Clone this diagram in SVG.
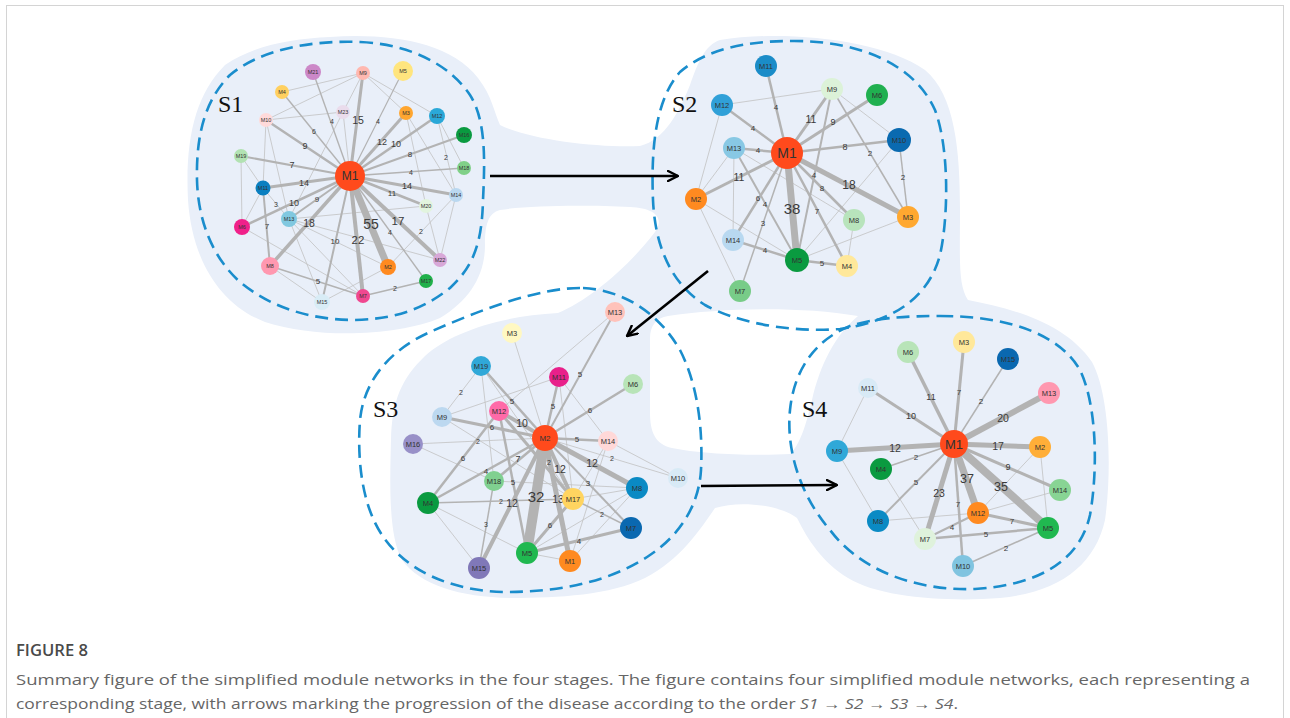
<svg xmlns="http://www.w3.org/2000/svg" width="1290" height="718" viewBox="0 0 1290 718">
<defs>
  <style>
    .frame{fill:#fff;stroke:#d4d4d4;stroke-width:1}
    .area{fill:#e9eff9}
    .hole{fill:#fff}
    .stage{fill:none;stroke:#1a8dcc;stroke-width:2.6;stroke-dasharray:13 7}
    .tag{font-family:"Liberation Serif","Times New Roman",serif;font-size:24px;fill:#111}
    .e{stroke:#b3b3b3;fill:none}
    .t{stroke:#c2c2c2;stroke-width:0.8;fill:none}
    .el{font-family:"Liberation Sans",Arial,sans-serif;fill:#3a3a3a;text-anchor:middle;dominant-baseline:central}
    .nl{font-family:"Liberation Sans",Arial,sans-serif;fill:#333;text-anchor:middle;dominant-baseline:central}
    .s1 .nl{font-size:5.5px}
    .s2 .nl,.s3 .nl,.s4 .nl{font-size:7.5px}
    .arrow{stroke:#000;stroke-width:2.6;fill:none;marker-end:url(#chev)}
    .cap{font-family:"Open Sans","Liberation Sans",sans-serif;font-size:15px;fill:#666}
    .fig{font-family:"Open Sans","Liberation Sans",sans-serif;font-size:16px;font-weight:600;fill:#4a4a4a}
  </style>
  <marker id="chev" viewBox="0 0 12 12" refX="11" refY="6" markerWidth="12" markerHeight="12" markerUnits="userSpaceOnUse" orient="auto">
    <path d="M1,1 L11,6 L1,11" fill="none" stroke="#000" stroke-width="2.4" stroke-linecap="round" stroke-linejoin="round"/>
  </marker>
</defs>

<rect class="frame" x="6.5" y="5.5" width="1277" height="730"/>

<!-- shaded backdrop joining the four stages -->
<g id="backdrop">
  <path class="area" d="M330,37 C390,33 450,42 478,78 C492,96 494,112 500,125 C530,140 600,148 640,146 C665,140 680,110 690,85 C698,62 705,45 720,40 C780,30 880,38 925,70 C955,95 960,150 960,210 C960,260 958,285 968,300 C1010,308 1065,322 1092,362 C1110,395 1112,470 1105,520 C1095,565 1060,592 1000,598 C950,602 880,598 848,578 C822,562 808,540 797,518 C780,505 740,500 715,508 C700,530 680,560 645,578 C610,595 560,598 510,598 C460,597 420,585 402,560 C388,535 390,480 391,440 C392,400 402,378 425,356 C450,333 500,316 558,313 C590,300 630,265 655,232 C665,218 655,208 630,207 C590,205 530,205 500,210 C488,213 485,225 485,245 C485,275 470,300 440,318 C400,335 320,340 265,322 C220,305 192,260 188,200 C185,140 195,95 225,65 C255,45 290,39 330,37 Z"/>
  <path class="hole" d="M668,316 C720,308 800,306 858,316 C835,335 820,365 812,400 C806,425 800,445 790,454 C750,456 700,454 672,448 C655,444 650,432 650,412 L650,338 C650,326 656,318 668,316 Z"/>
</g>

<!-- dashed stage outlines -->
<g id="stage-outlines">
  <path class="stage" d="M360,42 C410,44 450,65 470,95 C486,120 485,160 483,200 C482,240 475,265 450,288 C420,312 390,319 355,320 C310,320 270,307 240,282 C212,257 198,220 197,180 C196,135 205,100 230,75 C260,50 310,40 360,42 Z"/>
  <path class="stage" d="M790,41 C860,40 915,65 935,110 C950,150 948,220 940,255 C928,300 890,322 840,329 C790,333 735,322 705,305 C670,283 655,245 653,200 C651,150 655,100 680,72 C705,50 745,41 790,41 Z"/>
  <path class="stage" d="M583,288 C625,290 660,315 680,350 C698,385 703,430 701,470 C699,505 680,535 650,555 C610,582 560,592 505,592 C450,591 405,570 382,535 C362,505 357,460 360,420 C364,380 390,350 430,332 C480,310 540,287 583,288 Z"/>
  <path class="stage" d="M940,316 C1010,316 1060,335 1080,370 C1097,405 1098,470 1090,515 C1080,560 1040,585 975,589 C915,591 860,570 830,530 C800,495 786,450 790,410 C794,370 815,340 850,326 C875,318 905,316 940,316 Z"/>
  <text class="tag" x="218" y="112">S1</text>
  <text class="tag" x="672" y="112">S2</text>
  <text class="tag" x="373" y="417">S3</text>
  <text class="tag" x="802" y="417">S4</text>
</g>

<!-- progression arrows -->
<g id="progression">
  <line class="arrow" x1="490" y1="176" x2="678" y2="176"/>
  <line class="arrow" x1="708" y1="271" x2="627" y2="336"/>
  <line class="arrow" x1="701" y1="486" x2="837" y2="485"/>
</g>

<!-- ===== Stage 1 ===== -->
<g id="s1-connectors">
  <line class="t" x1="282" y1="92" x2="363" y2="73"/>
  <line class="t" x1="266" y1="120" x2="363" y2="73"/>
  <line class="t" x1="266" y1="120" x2="343" y2="112"/>
  <line class="t" x1="363" y1="73" x2="343" y2="112"/>
  <line class="t" x1="343" y1="112" x2="289" y2="219"/>
  <line class="t" x1="343" y1="112" x2="350" y2="176"/>
  <line class="t" x1="363" y1="73" x2="406" y2="113"/>
  <line class="t" x1="363" y1="73" x2="437" y2="116"/>
  <line class="t" x1="406" y1="113" x2="426" y2="206"/>
  <line class="t" x1="406" y1="113" x2="456" y2="195"/>
  <line class="t" x1="437" y1="116" x2="464" y2="168"/>
  <line class="t" x1="456" y1="195" x2="440" y2="260"/>
  <line class="t" x1="426" y1="206" x2="440" y2="260"/>
  <line class="t" x1="289" y1="219" x2="426" y2="206"/>
  <line class="t" x1="289" y1="219" x2="440" y2="260"/>
  <line class="t" x1="289" y1="219" x2="388" y2="267"/>
  <line class="t" x1="388" y1="267" x2="322" y2="302"/>
  <line class="t" x1="242" y1="227" x2="363" y2="296"/>
  <line class="t" x1="289" y1="219" x2="363" y2="296"/>
  <line class="t" x1="270" y1="266" x2="322" y2="302"/>
  <line class="t" x1="289" y1="219" x2="322" y2="302"/>
  <line class="t" x1="241" y1="156" x2="263" y2="188"/>
  <line class="t" x1="241" y1="156" x2="242" y2="227"/>
  <line class="t" x1="263" y1="188" x2="242" y2="227"/>
  <line class="t" x1="266" y1="120" x2="263" y2="188"/>
  <line class="t" x1="266" y1="120" x2="289" y2="219"/>
  <line class="t" x1="437" y1="116" x2="456" y2="195"/>
  <line class="t" x1="388" y1="267" x2="456" y2="195"/>
  <line class="t" x1="263" y1="188" x2="289" y2="219"/>
  <line class="e" stroke-width="2" x1="263" y1="188" x2="270" y2="266"/>
  <line class="e" stroke-width="1.5" x1="270" y1="266" x2="363" y2="296"/>
  <line class="e" stroke-width="1.5" x1="363" y1="296" x2="426" y2="281"/>
  <line class="e" stroke-width="1.4" x1="350" y1="176" x2="313" y2="72"/>
  <line class="e" stroke-width="1.4" x1="350" y1="176" x2="282" y2="92"/>
  <line class="e" stroke-width="1.2" x1="350" y1="176" x2="403" y2="71"/>
  <line class="e" stroke-width="1.4" x1="350" y1="176" x2="464" y2="168"/>
  <line class="e" stroke-width="1.4" x1="350" y1="176" x2="426" y2="281"/>
  <line class="e" stroke-width="2" x1="350" y1="176" x2="464" y2="135"/>
  <line class="e" stroke-width="2" x1="350" y1="176" x2="241" y2="156"/>
  <line class="e" stroke-width="2" x1="350" y1="176" x2="289" y2="219"/>
  <line class="e" stroke-width="2" x1="350" y1="176" x2="322" y2="302"/>
  <line class="e" stroke-width="2.5" x1="350" y1="176" x2="266" y2="120"/>
  <line class="e" stroke-width="2.5" x1="350" y1="176" x2="437" y2="116"/>
  <line class="e" stroke-width="2.5" x1="350" y1="176" x2="426" y2="206"/>
  <line class="e" stroke-width="2.5" x1="350" y1="176" x2="242" y2="227"/>
  <line class="e" stroke-width="3" x1="350" y1="176" x2="363" y2="73"/>
  <line class="e" stroke-width="3" x1="350" y1="176" x2="406" y2="113"/>
  <line class="e" stroke-width="3" x1="350" y1="176" x2="263" y2="188"/>
  <line class="e" stroke-width="3" x1="350" y1="176" x2="456" y2="195"/>
  <line class="e" stroke-width="3.5" x1="350" y1="176" x2="270" y2="266"/>
  <line class="e" stroke-width="4" x1="350" y1="176" x2="363" y2="296"/>
  <line class="e" stroke-width="4" x1="350" y1="176" x2="440" y2="260"/>
  <line class="e" stroke-width="7" x1="350" y1="176" x2="388" y2="267"/>
  <g class="el" font-size="7">
    <text x="332" y="121">4</text><text x="314" y="131">6</text><text x="378" y="121">4</text>
    <text x="411" y="172">4</text><text x="390" y="232">4</text><text x="276" y="204">3</text>
    <text x="446" y="157">2</text><text x="421" y="231">2</text><text x="395" y="288">2</text>
  </g>
  <g class="el" font-size="8">
    <text x="410" y="154">8</text><text x="392" y="193">11</text><text x="317" y="199">9</text>
    <text x="335" y="241">10</text><text x="267" y="226">7</text><text x="318" y="281">5</text>
  </g>
  <g class="el" font-size="9">
    <text x="305" y="146">9</text><text x="382" y="142">12</text><text x="396" y="144">10</text>
    <text x="292" y="165">7</text><text x="304" y="183">14</text><text x="407" y="186">14</text>
    <text x="294" y="203">10</text>
  </g>
  <g class="el" font-size="10.5">
    <text x="358" y="120">15</text><text x="309" y="223">18</text>
  </g>
  <g class="el" font-size="11.5">
    <text x="358" y="240">22</text><text x="398" y="221">17</text>
  </g>
  <text class="el" font-size="14" x="371" y="224">55</text>
</g>
<g class="s1">
  <g id="s1-m21"><circle cx="313" cy="72" r="8" fill="#cc88c8"/><text class="nl" x="313" y="72">M21</text></g>
  <g id="s1-m9"><circle cx="363" cy="73" r="7" fill="#ffb8b0"/><text class="nl" x="363" y="73">M9</text></g>
  <g id="s1-m5"><circle cx="403" cy="71" r="10" fill="#ffe57e"/><text class="nl" x="403" y="71">M5</text></g>
  <g id="s1-m4"><circle cx="282" cy="92" r="7" fill="#ffd060"/><text class="nl" x="282" y="92">M4</text></g>
  <g id="s1-m23"><circle cx="343" cy="112" r="7" fill="#eadcec"/><text class="nl" x="343" y="112">M23</text></g>
  <g id="s1-m3"><circle cx="406" cy="113" r="7" fill="#ffa630"/><text class="nl" x="406" y="113">M3</text></g>
  <g id="s1-m12"><circle cx="437" cy="116" r="8" fill="#2aa8d8"/><text class="nl" x="437" y="116">M12</text></g>
  <g id="s1-m10"><circle cx="266" cy="120" r="7" fill="#ffdada"/><text class="nl" x="266" y="120">M10</text></g>
  <g id="s1-m16"><circle cx="464" cy="135" r="8" fill="#0a9a40"/><text class="nl" x="464" y="135">M16</text></g>
  <g id="s1-m19"><circle cx="241" cy="156" r="7" fill="#b2e2b2"/><text class="nl" x="241" y="156">M19</text></g>
  <g id="s1-m18"><circle cx="464" cy="168" r="7" fill="#80d088"/><text class="nl" x="464" y="168">M18</text></g>
  <g id="s1-m11"><circle cx="263" cy="188" r="7.5" fill="#0a7fc0"/><text class="nl" x="263" y="188">M11</text></g>
  <g id="s1-m14"><circle cx="456" cy="195" r="7" fill="#bad8f0"/><text class="nl" x="456" y="195">M14</text></g>
  <g id="s1-m20"><circle cx="426" cy="206" r="7" fill="#e2f4de"/><text class="nl" x="426" y="206">M20</text></g>
  <g id="s1-m13"><circle cx="289" cy="219" r="8" fill="#80c8e0"/><text class="nl" x="289" y="219">M13</text></g>
  <g id="s1-m6"><circle cx="242" cy="227" r="8" fill="#f0208a"/><text class="nl" x="242" y="227">M6</text></g>
  <g id="s1-m22"><circle cx="440" cy="260" r="7" fill="#d8a8d8"/><text class="nl" x="440" y="260">M22</text></g>
  <g id="s1-m2"><circle cx="388" cy="267" r="8" fill="#ff8a20"/><text class="nl" x="388" y="267">M2</text></g>
  <g id="s1-m8"><circle cx="270" cy="266" r="9" fill="#ff98b0"/><text class="nl" x="270" y="266">M8</text></g>
  <g id="s1-m17"><circle cx="426" cy="281" r="7" fill="#20b04a"/><text class="nl" x="426" y="281">M17</text></g>
  <g id="s1-m7"><circle cx="363" cy="296" r="7" fill="#f04890"/><text class="nl" x="363" y="296">M7</text></g>
  <g id="s1-m15"><circle cx="322" cy="302" r="8" fill="#d8ecf6"/><text class="nl" x="322" y="302">M15</text></g>
  <g id="s1-m1"><circle cx="350" cy="176" r="15" fill="#ff4a1c"/><text class="nl" x="350" y="176" style="font-size:12px">M1</text></g>
</g>

<!-- ===== Stage 2 ===== -->
<g id="s2-connectors">
  <line class="t" x1="722" y1="105" x2="832" y2="89"/>
  <line class="t" x1="722" y1="105" x2="696" y2="199"/>
  <line class="t" x1="734" y1="148" x2="696" y2="199"/>
  <line class="t" x1="734" y1="148" x2="733" y2="240"/>
  <line class="t" x1="734" y1="148" x2="854" y2="220"/>
  <line class="t" x1="696" y1="199" x2="797" y2="260"/>
  <line class="t" x1="696" y1="199" x2="740" y2="291"/>
  <line class="t" x1="832" y1="89" x2="899" y2="140"/>
  <line class="t" x1="899" y1="140" x2="797" y2="260"/>
  <line class="t" x1="854" y1="220" x2="847" y2="266"/>
  <line class="t" x1="908" y1="217" x2="797" y2="260"/>
  <line class="e" stroke-width="1.5" x1="832" y1="89" x2="908" y2="217"/>
  <line class="e" stroke-width="1.5" x1="899" y1="140" x2="908" y2="217"/>
  <line class="e" stroke-width="1.5" x1="787" y1="153" x2="740" y2="291"/>
  <line class="e" stroke-width="2" x1="832" y1="89" x2="797" y2="260"/>
  <line class="e" stroke-width="2" x1="734" y1="148" x2="797" y2="260"/>
  <line class="e" stroke-width="2.5" x1="733" y1="240" x2="797" y2="260"/>
  <line class="e" stroke-width="2.5" x1="797" y1="260" x2="847" y2="266"/>
  <line class="e" stroke-width="2.5" x1="787" y1="153" x2="766" y2="66"/>
  <line class="e" stroke-width="2.5" x1="787" y1="153" x2="722" y2="105"/>
  <line class="e" stroke-width="2.5" x1="787" y1="153" x2="734" y2="148"/>
  <line class="e" stroke-width="2.5" x1="787" y1="153" x2="899" y2="140"/>
  <line class="e" stroke-width="2.5" x1="787" y1="153" x2="854" y2="220"/>
  <line class="e" stroke-width="2.5" x1="787" y1="153" x2="847" y2="266"/>
  <line class="e" stroke-width="2.5" x1="787" y1="153" x2="733" y2="240"/>
  <line class="e" stroke-width="3" x1="787" y1="153" x2="832" y2="89"/>
  <line class="e" stroke-width="3" x1="787" y1="153" x2="877" y2="95"/>
  <line class="e" stroke-width="3" x1="787" y1="153" x2="696" y2="199"/>
  <line class="e" stroke-width="5" x1="787" y1="153" x2="908" y2="217"/>
  <line class="e" stroke-width="7" x1="787" y1="153" x2="797" y2="260"/>
  <g class="el" font-size="8">
    <text x="776" y="107">4</text><text x="753" y="128">4</text><text x="758" y="150">4</text>
    <text x="822" y="188">8</text><text x="817" y="211">7</text><text x="758" y="198">6</text>
    <text x="763" y="223">3</text><text x="814" y="175">4</text><text x="765" y="204">4</text>
    <text x="765" y="250">4</text><text x="822" y="263">5</text><text x="870" y="153">2</text>
    <text x="903" y="177">2</text>
  </g>
  <g class="el" font-size="9">
    <text x="833" y="122">9</text><text x="845" y="147">8</text>
  </g>
  <g class="el" font-size="10.5">
    <text x="811" y="119">11</text><text x="739" y="177">11</text>
  </g>
  <text class="el" font-size="12" x="849" y="185">18</text>
  <text class="el" font-size="15" x="792" y="208">38</text>
</g>
<g class="s2">
  <g id="s2-m11"><circle cx="766" cy="66" r="11" fill="#1a8cc8"/><text class="nl" x="766" y="66">M11</text></g>
  <g id="s2-m9"><circle cx="832" cy="89" r="11" fill="#dcf2d8"/><text class="nl" x="832" y="89">M9</text></g>
  <g id="s2-m6"><circle cx="877" cy="95" r="11" fill="#20b050"/><text class="nl" x="877" y="95">M6</text></g>
  <g id="s2-m12"><circle cx="722" cy="105" r="11" fill="#30a0d8"/><text class="nl" x="722" y="105">M12</text></g>
  <g id="s2-m13"><circle cx="734" cy="148" r="11" fill="#88c8e4"/><text class="nl" x="734" y="148">M13</text></g>
  <g id="s2-m10"><circle cx="899" cy="140" r="12" fill="#0a6ab0"/><text class="nl" x="899" y="140">M10</text></g>
  <g id="s2-m2"><circle cx="696" cy="199" r="11" fill="#ff8a20"/><text class="nl" x="696" y="199">M2</text></g>
  <g id="s2-m3"><circle cx="908" cy="217" r="11" fill="#ffa830"/><text class="nl" x="908" y="217">M3</text></g>
  <g id="s2-m8"><circle cx="854" cy="220" r="11" fill="#b8e4bc"/><text class="nl" x="854" y="220">M8</text></g>
  <g id="s2-m14"><circle cx="733" cy="240" r="11" fill="#b8d8f0"/><text class="nl" x="733" y="240">M14</text></g>
  <g id="s2-m5"><circle cx="797" cy="260" r="12" fill="#0a9a40"/><text class="nl" x="797" y="260">M5</text></g>
  <g id="s2-m4"><circle cx="847" cy="266" r="11" fill="#ffe89a"/><text class="nl" x="847" y="266">M4</text></g>
  <g id="s2-m7"><circle cx="740" cy="291" r="11" fill="#78cc88"/><text class="nl" x="740" y="291">M7</text></g>
  <g id="s2-m1"><circle cx="787" cy="153" r="16" fill="#ff4a1c"/><text class="nl" x="787" y="153" style="font-size:14px">M1</text></g>
</g>

<!-- ===== Stage 3 ===== -->
<g id="s3-connectors">
  <line class="t" x1="512" y1="333" x2="545" y2="438"/>
  <line class="t" x1="442" y1="417" x2="559" y2="377"/>
  <line class="t" x1="615" y1="312" x2="499" y2="411"/>
  <line class="t" x1="413" y1="444" x2="494" y2="481"/>
  <line class="t" x1="481" y1="366" x2="494" y2="481"/>
  <line class="t" x1="442" y1="417" x2="573" y2="499"/>
  <line class="t" x1="494" y1="481" x2="637" y2="488"/>
  <line class="t" x1="637" y1="488" x2="527" y2="553"/>
  <line class="t" x1="637" y1="488" x2="570" y2="561"/>
  <line class="t" x1="637" y1="488" x2="573" y2="499"/>
  <line class="t" x1="608" y1="441" x2="573" y2="499"/>
  <line class="t" x1="608" y1="441" x2="570" y2="561"/>
  <line class="t" x1="527" y1="553" x2="570" y2="561"/>
  <line class="t" x1="428" y1="503" x2="527" y2="553"/>
  <line class="t" x1="428" y1="503" x2="479" y2="568"/>
  <line class="t" x1="559" y1="377" x2="573" y2="499"/>
  <line class="t" x1="559" y1="377" x2="608" y2="441"/>
  <line class="t" x1="608" y1="441" x2="678" y2="478"/>
  <line class="t" x1="481" y1="366" x2="573" y2="499"/>
  <line class="t" x1="545" y1="438" x2="413" y2="444"/>
  <line class="t" x1="545" y1="438" x2="678" y2="478"/>
  <line class="t" stroke-width="1.2" x1="481" y1="366" x2="442" y2="417"/>
  <line class="e" stroke-width="1.5" x1="494" y1="481" x2="479" y2="568"/>
  <line class="e" stroke-width="1.5" x1="428" y1="503" x2="573" y2="499"/>
  <line class="e" stroke-width="1.5" x1="573" y1="499" x2="631" y2="528"/>
  <line class="e" stroke-width="2" x1="545" y1="438" x2="615" y2="312"/>
  <line class="e" stroke-width="2" x1="545" y1="438" x2="631" y2="528"/>
  <line class="e" stroke-width="2.5" x1="499" y1="411" x2="527" y2="553"/>
  <line class="e" stroke-width="2.5" x1="499" y1="411" x2="428" y2="503"/>
  <line class="e" stroke-width="3" x1="499" y1="411" x2="573" y2="499"/>
  <line class="e" stroke-width="3" x1="573" y1="499" x2="527" y2="553"/>
  <line class="e" stroke-width="3" x1="527" y1="553" x2="631" y2="528"/>
  <line class="e" stroke-width="2.5" x1="545" y1="438" x2="559" y2="377"/>
  <line class="e" stroke-width="2.5" x1="545" y1="438" x2="633" y2="384"/>
  <line class="e" stroke-width="2.5" x1="545" y1="438" x2="608" y2="441"/>
  <line class="e" stroke-width="2.5" x1="545" y1="438" x2="481" y2="366"/>
  <line class="e" stroke-width="2.5" x1="545" y1="438" x2="494" y2="481"/>
  <line class="e" stroke-width="2.5" x1="545" y1="438" x2="428" y2="503"/>
  <line class="e" stroke-width="3" x1="545" y1="438" x2="442" y2="417"/>
  <line class="e" stroke-width="4" x1="545" y1="438" x2="499" y2="411"/>
  <line class="e" stroke-width="4" x1="545" y1="438" x2="573" y2="499"/>
  <line class="e" stroke-width="4" x1="545" y1="438" x2="479" y2="568"/>
  <line class="e" stroke-width="5" x1="545" y1="438" x2="637" y2="488"/>
  <line class="e" stroke-width="5" x1="545" y1="438" x2="570" y2="561"/>
  <line class="e" stroke-width="10" x1="545" y1="438" x2="527" y2="553"/>
  <g class="el" font-size="7">
    <text x="478" y="441">2</text><text x="612" y="458">2</text><text x="549" y="462">2</text>
    <text x="461" y="392">2</text><text x="486" y="524">3</text><text x="501" y="501">2</text>
    <text x="602" y="514">2</text>
  </g>
  <g class="el" font-size="8">
    <text x="580" y="374">5</text><text x="553" y="406">5</text><text x="590" y="410">6</text>
    <text x="577" y="439">5</text><text x="512" y="401">5</text><text x="492" y="427">6</text>
    <text x="486" y="471">4</text><text x="463" y="458">6</text><text x="588" y="483">3</text>
    <text x="513" y="482">5</text><text x="550" y="525">6</text><text x="579" y="541">4</text>
  </g>
  <text class="el" font-size="9" x="518" y="459">7</text>
  <g class="el" font-size="10.5">
    <text x="522" y="423">10</text><text x="560" y="469">12</text><text x="558" y="499">13</text>
    <text x="592" y="463">12</text><text x="512" y="503">12</text>
  </g>
  <text class="el" font-size="15" x="536" y="496">32</text>
</g>
<g class="s3">
  <g id="s3-m13"><circle cx="615" cy="312" r="10" fill="#ffc2ba"/><text class="nl" x="615" y="312">M13</text></g>
  <g id="s3-m3"><circle cx="512" cy="333" r="10" fill="#fff8c2"/><text class="nl" x="512" y="333">M3</text></g>
  <g id="s3-m19"><circle cx="481" cy="366" r="10" fill="#30a8d8"/><text class="nl" x="481" y="366">M19</text></g>
  <g id="s3-m11"><circle cx="559" cy="377" r="10" fill="#e8208a"/><text class="nl" x="559" y="377">M11</text></g>
  <g id="s3-m6"><circle cx="633" cy="384" r="10" fill="#b8e4b8"/><text class="nl" x="633" y="384">M6</text></g>
  <g id="s3-m12"><circle cx="499" cy="411" r="10" fill="#ff6aa8"/><text class="nl" x="499" y="411">M12</text></g>
  <g id="s3-m9"><circle cx="442" cy="417" r="10" fill="#bcd8f0"/><text class="nl" x="442" y="417">M9</text></g>
  <g id="s3-m14"><circle cx="608" cy="441" r="10" fill="#ffd8d8"/><text class="nl" x="608" y="441">M14</text></g>
  <g id="s3-m16"><circle cx="413" cy="444" r="10" fill="#9890c8"/><text class="nl" x="413" y="444">M16</text></g>
  <g id="s3-m10"><circle cx="678" cy="478" r="10" fill="#d8eaf6"/><text class="nl" x="678" y="478">M10</text></g>
  <g id="s3-m18"><circle cx="494" cy="481" r="10" fill="#80d090"/><text class="nl" x="494" y="481">M18</text></g>
  <g id="s3-m8"><circle cx="637" cy="488" r="11" fill="#0a8ac4"/><text class="nl" x="637" y="488">M8</text></g>
  <g id="s3-m4"><circle cx="428" cy="503" r="11" fill="#0a9a40"/><text class="nl" x="428" y="503">M4</text></g>
  <g id="s3-m17"><circle cx="573" cy="499" r="11" fill="#ffd460"/><text class="nl" x="573" y="499">M17</text></g>
  <g id="s3-m7"><circle cx="631" cy="528" r="11" fill="#0a68b0"/><text class="nl" x="631" y="528">M7</text></g>
  <g id="s3-m5"><circle cx="527" cy="553" r="11" fill="#20b850"/><text class="nl" x="527" y="553">M5</text></g>
  <g id="s3-m1"><circle cx="570" cy="561" r="11" fill="#ff8a20"/><text class="nl" x="570" y="561">M1</text></g>
  <g id="s3-m15"><circle cx="479" cy="568" r="11" fill="#8078b8"/><text class="nl" x="479" y="568">M15</text></g>
  <g id="s3-m2"><circle cx="545" cy="438" r="13" fill="#ff4a1c"/><text class="nl" x="545" y="438" style="font-size:8px">M2</text></g>
</g>

<!-- ===== Stage 4 ===== -->
<g id="s4-connectors">
  <line class="t" x1="868" y1="388" x2="837" y2="451"/>
  <line class="t" x1="837" y1="451" x2="878" y2="521"/>
  <line class="t" x1="881" y1="469" x2="925" y2="539"/>
  <line class="t" x1="878" y1="521" x2="978" y2="513"/>
  <line class="t" x1="978" y1="513" x2="1060" y2="490"/>
  <line class="t" x1="1040" y1="447" x2="978" y2="513"/>
  <line class="t" x1="1040" y1="447" x2="1048" y2="528"/>
  <line class="e" stroke-width="1.5" x1="963" y1="566" x2="1048" y2="528"/>
  <line class="e" stroke-width="2" x1="925" y1="539" x2="978" y2="513"/>
  <line class="e" stroke-width="2.5" x1="925" y1="539" x2="1048" y2="528"/>
  <line class="e" stroke-width="3" x1="978" y1="513" x2="1048" y2="528"/>
  <line class="e" stroke-width="1.5" x1="954" y1="444" x2="1008" y2="359"/>
  <line class="e" stroke-width="1.5" x1="954" y1="444" x2="881" y2="469"/>
  <line class="e" stroke-width="2" x1="954" y1="444" x2="878" y2="521"/>
  <line class="e" stroke-width="2.5" x1="954" y1="444" x2="963" y2="566"/>
  <line class="e" stroke-width="3" x1="954" y1="444" x2="964" y2="342"/>
  <line class="e" stroke-width="3.5" x1="954" y1="444" x2="908" y2="352"/>
  <line class="e" stroke-width="3" x1="954" y1="444" x2="868" y2="388"/>
  <line class="e" stroke-width="3" x1="954" y1="444" x2="1060" y2="490"/>
  <line class="e" stroke-width="5" x1="954" y1="444" x2="837" y2="451"/>
  <line class="e" stroke-width="5" x1="954" y1="444" x2="1040" y2="447"/>
  <line class="e" stroke-width="5" x1="954" y1="444" x2="925" y2="539"/>
  <line class="e" stroke-width="6" x1="954" y1="444" x2="1049" y2="393"/>
  <line class="e" stroke-width="7" x1="954" y1="444" x2="978" y2="513"/>
  <line class="e" stroke-width="8" x1="954" y1="444" x2="1048" y2="528"/>
  <g class="el" font-size="8">
    <text x="959" y="392">7</text><text x="981" y="401">2</text><text x="916" y="457">2</text>
    <text x="916" y="482">5</text><text x="958" y="504">7</text><text x="1012" y="521">7</text>
    <text x="986" y="534">5</text><text x="952" y="527">4</text><text x="1006" y="548">2</text>
  </g>
  <g class="el" font-size="9">
    <text x="931" y="397">11</text><text x="911" y="416">10</text><text x="1008" y="467">9</text>
  </g>
  <g class="el" font-size="10.5">
    <text x="1003" y="418">20</text><text x="895" y="448">12</text><text x="998" y="446">17</text>
    <text x="939" y="493">23</text>
  </g>
  <g class="el" font-size="12.5">
    <text x="967" y="479">37</text><text x="1001" y="487">35</text>
  </g>
</g>
<g class="s4">
  <g id="s4-m3"><circle cx="964" cy="342" r="11" fill="#ffe89a"/><text class="nl" x="964" y="342">M3</text></g>
  <g id="s4-m6"><circle cx="908" cy="352" r="11" fill="#b8e4b8"/><text class="nl" x="908" y="352">M6</text></g>
  <g id="s4-m15"><circle cx="1008" cy="359" r="11" fill="#0a68b0"/><text class="nl" x="1008" y="359">M15</text></g>
  <g id="s4-m11"><circle cx="868" cy="388" r="10" fill="#d8eaf6"/><text class="nl" x="868" y="388">M11</text></g>
  <g id="s4-m13"><circle cx="1049" cy="393" r="11" fill="#ff98b0"/><text class="nl" x="1049" y="393">M13</text></g>
  <g id="s4-m2"><circle cx="1040" cy="447" r="11" fill="#ffae38"/><text class="nl" x="1040" y="447">M2</text></g>
  <g id="s4-m9"><circle cx="837" cy="451" r="11" fill="#30a8d8"/><text class="nl" x="837" y="451">M9</text></g>
  <g id="s4-m4"><circle cx="881" cy="469" r="11" fill="#0a9a40"/><text class="nl" x="881" y="469">M4</text></g>
  <g id="s4-m14"><circle cx="1060" cy="490" r="11" fill="#88d494"/><text class="nl" x="1060" y="490">M14</text></g>
  <g id="s4-m12"><circle cx="978" cy="513" r="11" fill="#ff8a20"/><text class="nl" x="978" y="513">M12</text></g>
  <g id="s4-m8"><circle cx="878" cy="521" r="11" fill="#0a8ac4"/><text class="nl" x="878" y="521">M8</text></g>
  <g id="s4-m5"><circle cx="1048" cy="528" r="11" fill="#20b850"/><text class="nl" x="1048" y="528">M5</text></g>
  <g id="s4-m7"><circle cx="925" cy="539" r="11" fill="#dff2dc"/><text class="nl" x="925" y="539">M7</text></g>
  <g id="s4-m10"><circle cx="963" cy="566" r="11" fill="#80c4e0"/><text class="nl" x="963" y="566">M10</text></g>
  <g id="s4-m1"><circle cx="954" cy="444" r="14" fill="#ff4a1c"/><text class="nl" x="954" y="444" style="font-size:13px">M1</text></g>
</g>

<!-- caption -->
<g id="caption">
  <text class="fig" x="16" y="656" textLength="72" lengthAdjust="spacingAndGlyphs">FIGURE 8</text>
  <text class="cap" x="16" y="685" textLength="1234" lengthAdjust="spacingAndGlyphs">Summary figure of the simplified module networks in the four stages. The figure contains four simplified module networks, each representing a</text>
  <text class="cap" x="16" y="709" textLength="942" lengthAdjust="spacingAndGlyphs">corresponding stage, with arrows marking the progression of the disease according to the order <tspan font-style="italic">S1</tspan> → <tspan font-style="italic">S2</tspan> → <tspan font-style="italic">S3</tspan> → <tspan font-style="italic">S4</tspan>.</text>
</g>
</svg>
